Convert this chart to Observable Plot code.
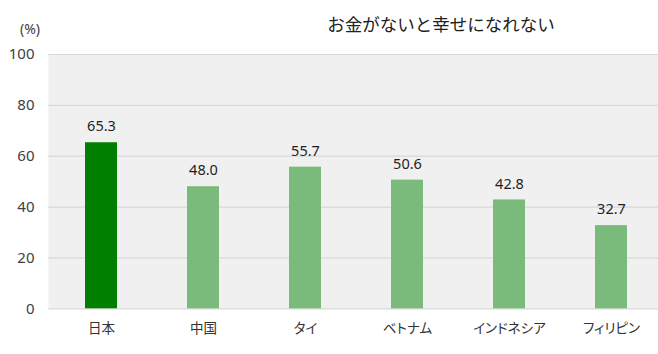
<!DOCTYPE html>
<html>
<head>
<meta charset="utf-8">
<script src="https://cdn.jsdelivr.net/npm/d3@7"></script>
<script src="https://cdn.jsdelivr.net/npm/@observablehq/plot@0.6"></script>
<style>
  html, body { margin: 0; padding: 0; background: #fff; }
  #wrap { position: relative; width: 658px; height: 354px; font-family: "Noto Sans", "Noto Sans CJK JP", sans-serif; }
  #title { position: absolute; left: 441px; top: 11px; transform: translateX(-50%); font-family: "Noto Sans CJK JP", sans-serif; font-size: 17.5px; color: #222; white-space: nowrap; }
  #unit { position: absolute; left: 20px; top: 19px; font-size: 14px; color: #404040; }
  svg { position: absolute; left: 0; top: 0; }
  svg g[aria-label="x-axis tick label"] text { font-feature-settings: "palt"; }
</style>
</head>
<body>
<div id="wrap">
  <div id="title">お金がないと幸せになれない</div>
  <div id="unit">(%)</div>
</div>
<script>
const categories = ["日本", "中国", "タイ", "ベトナム", "インドネシア", "フィリピン"];
const values = [65.3, 48.0, 55.7, 50.6, 42.8, 32.7];
const barColors = ["#008000", "#7aba7a", "#7aba7a", "#7aba7a", "#7aba7a", "#7aba7a"];
const yTicks = [0, 20, 40, 60, 80, 100];

const data = categories.map((c, i) => ({country: c, value: values[i], color: barColors[i]}));

const chart = Plot.plot({
  width: 658,
  height: 354,
  marginTop: 54,
  marginBottom: 45.7,
  marginLeft: 48,
  marginRight: 0,
  style: {fontFamily: "'Noto Sans', 'Noto Sans CJK JP', sans-serif", background: "transparent", overflow: "hidden"},
  x: {domain: categories, range: [47.7, 663.3], paddingInner: 0.688, paddingOuter: 0.344, label: null},
  y: {domain: [0, 100], label: null},
  marks: [
    Plot.frame({fill: "#f0f0f0", stroke: null}),
    Plot.ruleY(yTicks, {stroke: "#d9d9d9", strokeWidth: 1.2}),
    Plot.barY(data, {x: "country", y: "value", fill: "color"}),
    Plot.text(data, {x: "country", y: "value", text: d => d.value.toFixed(1), dy: -16, fontSize: 14.5, fill: "#1f1f1f"}),
    Plot.axisY({ticks: yTicks, tickSize: 0, tickPadding: 14, fontSize: 15, fill: "#404040", label: null}),
    Plot.axisX({tickSize: 0, tickPadding: 15, fontSize: 13.5, fill: "#333", fontFamily: "'Noto Sans CJK JP', sans-serif", label: null})
  ]
});
document.getElementById("wrap").appendChild(chart);
</script>
</body>
</html>
